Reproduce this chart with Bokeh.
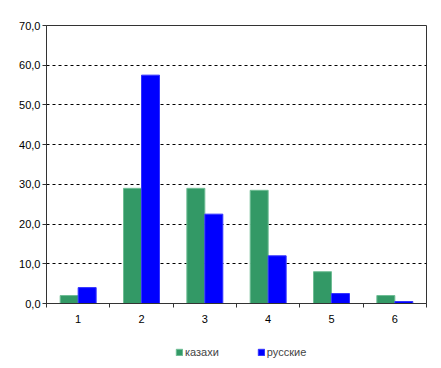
from bokeh.plotting import figure
from bokeh.layouts import column
from bokeh.models import ColumnDataSource, FixedTicker, Legend, LegendItem, Range1d
from bokeh.embed import file_html
from bokeh.resources import INLINE

groups = [1, 2, 3, 4, 5, 6]
kazakhs = [2.0, 29.0, 29.0, 28.5, 8.0, 2.0]
russians = [4.0, 57.5, 22.5, 12.0, 2.5, 0.5]
series_names = ["казахи", "русские"]
y_ticks = [0, 10, 20, 30, 40, 50, 60, 70]
y_labels = ["0,0", "10,0", "20,0", "30,0", "40,0", "50,0", "60,0", "70,0"]

FONT = "Liberation Sans"
GREEN, GREEN_EDGE = "#339966", "#6fbd94"
BLUE, BLUE_EDGE = "#0000ff", "#3333ff"
bw = 0.284

p = figure(width=433, height=330, output_backend="svg", toolbar_location=None,
           x_range=Range1d(0.5, 6.5), y_range=Range1d(0, 70),
           min_border_left=46, min_border_right=7, min_border_top=25, min_border_bottom=27)
p.background_fill_color = "white"
p.border_fill_color = "white"
p.outline_line_color = "#333333"
p.outline_line_width = 1

src = ColumnDataSource(dict(xk=[g - bw / 2 for g in groups], xr=[g + bw / 2 for g in groups],
                            k=kazakhs, r=russians))
p.vbar(x="xk", top="k", width=bw, source=src, fill_color=GREEN, line_color=GREEN_EDGE, line_width=1)
p.vbar(x="xr", top="r", width=bw, source=src, fill_color=BLUE, line_color=BLUE_EDGE, line_width=1)

# axes
p.xaxis.ticker = FixedTicker(ticks=groups, minor_ticks=[g - 0.5 for g in groups] + [6.5])
p.xaxis.major_tick_out = 0
p.xaxis.major_tick_in = 0
p.xaxis.minor_tick_out = 4
p.xaxis.minor_tick_in = 0
p.xaxis.minor_tick_line_color = "#333333"
p.xaxis.major_label_standoff = 7
p.yaxis.ticker = FixedTicker(ticks=y_ticks)
p.yaxis.major_label_overrides = {t: l for t, l in zip(y_ticks, y_labels)}
p.yaxis.major_tick_out = 4
p.yaxis.major_tick_in = 0
p.yaxis.minor_tick_line_color = None
p.yaxis.major_label_standoff = 2
for ax in (p.xaxis, p.yaxis):
    ax.axis_line_color = "#333333"
    ax.major_tick_line_color = "#333333"
    ax.major_label_text_font = FONT
    ax.major_label_text_font_size = "11px"
    ax.major_label_text_color = "black"

p.xgrid.grid_line_color = None
p.ygrid.ticker = FixedTicker(ticks=[10, 20, 30, 40, 50, 60])
p.ygrid.grid_line_color = "black"
p.ygrid.grid_line_dash = "3 3"
p.ygrid.grid_line_width = 1

# legend strip below the chart
lg = figure(width=433, height=30, output_backend="svg", toolbar_location=None,
            x_axis_type=None, y_axis_type=None, x_range=Range1d(0, 1), y_range=Range1d(0, 1),
            min_border_left=46, min_border_right=7, min_border_top=0, min_border_bottom=0)
lg.outline_line_color = None
lg.grid.grid_line_color = None
lk = lg.vbar(x=groups, top=kazakhs, width=bw, fill_color=GREEN, line_color=GREEN_EDGE, visible=False)
lr = lg.vbar(x=groups, top=russians, width=bw, fill_color=BLUE, line_color=BLUE_EDGE, visible=False)
legend = Legend(items=[LegendItem(label=series_names[0], renderers=[lk]),
                       LegendItem(label=series_names[1], renderers=[lr])],
                orientation="horizontal", location=(129, 2))
legend.glyph_width = 8
legend.glyph_height = 8
legend.label_standoff = 2
legend.spacing = 38
legend.padding = 0
legend.margin = 0
legend.border_line_color = None
legend.background_fill_alpha = 0
legend.inactive_fill_alpha = 0
legend.label_text_font = FONT
legend.label_text_font_size = "11px"
legend.label_height = 12
lg.add_layout(legend, "center")

layout = column(p, lg, spacing=0)
open("out.html", "w").write(file_html(layout, INLINE))
